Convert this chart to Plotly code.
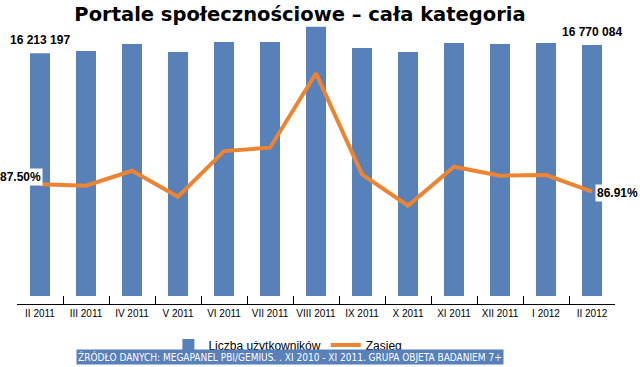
import plotly.graph_objects as go

categories = ["II 2011", "III 2011", "IV 2011", "V 2011", "VI 2011", "VII 2011", "VIII 2011",
              "IX 2011", "X 2011", "XI 2011", "XII 2011", "I 2012", "II 2012"]
users = [16213197, 16370000, 16830000, 16300000, 16970000, 16970000, 17990000,
         16570000, 16300000, 16900000, 16830000, 16900000, 16770084]
reach = [87.50, 87.39, 88.58, 86.51, 90.15, 90.42, 96.35,
         88.30, 85.79, 88.90, 88.19, 88.24, 86.91]

title_text = "Portale społecznościowe – cała kategoria"
source_text = "ŹRÓDŁO DANYCH: MEGAPANEL PBI/GEMIUS. . XI 2010 - XI 2011. GRUPA OBJETA BADANIEM 7+"

BLUE = "#5880B9"
ORANGE = "#ED8432"
SANS = "Liberation Sans, Arial, sans-serif"

def fmt_users(v):
    return f"{v:,}".replace(",", " ")

fig = go.Figure()
fig.add_trace(go.Bar(x=categories, y=users, name="Liczba użytkowników",
                     marker=dict(color=BLUE, line=dict(width=0)), yaxis="y"))
fig.add_trace(go.Scatter(x=categories, y=reach, name="Zasięg", mode="lines",
                         line=dict(color=ORANGE, width=4), yaxis="y2"))

ann = []
for i in (0, len(categories) - 1):
    ann.append(dict(x=categories[i], y=users[i], xref="x", yref="y", text=fmt_users(users[i]),
                    showarrow=False, yanchor="bottom", yshift=4,
                    font=dict(family=SANS, size=12, color="black")))
ann.append(dict(x=categories[0], y=reach[0], xref="x", yref="y2", text=f"{reach[0]:.2f}%",
                showarrow=False, xanchor="right", yanchor="middle", xshift=3, yshift=7,
                bgcolor="white", font=dict(family=SANS, size=12, color="black")))
ann.append(dict(x=categories[-1], y=reach[-1], xref="x", yref="y2", text=f"{reach[-1]:.2f}%",
                showarrow=False, xanchor="left", yanchor="middle", xshift=3, yshift=-1,
                bgcolor="white", font=dict(family=SANS, size=12, color="black")))
for a in ann:
    a["text"] = "<b>" + a["text"] + "</b>"
ann.append(dict(x=0.457, y=-0.189, xref="paper", yref="paper", text=source_text,
                showarrow=False, xanchor="center", yanchor="middle", bgcolor=BLUE,
                borderpad=1,
                font=dict(family="DejaVu Sans Condensed, DejaVu Sans, sans-serif", size=10, color="white")))

fig.update_layout(
    width=640, height=367,
    margin=dict(l=17, r=25, t=24, b=63, autoexpand=False),
    paper_bgcolor="white", plot_bgcolor="white",
    title=dict(text="<b>" + title_text + "</b>", x=300 / 640, xref="container", xanchor="center",
               y=1 - 14 / 367, yref="container", yanchor="middle",
               font=dict(family="DejaVu Sans, Verdana, sans-serif", size=19.5, color="black")),
    bargap=0.565,
    showlegend=True,
    legend=dict(orientation="h", x=0.453, y=-0.146, xanchor="center", yanchor="middle",
                font=dict(family=SANS, size=12, color="black"), itemwidth=30,
                bgcolor="rgba(0,0,0,0)"),
    xaxis=dict(range=[-0.5, len(categories) - 0.5], showline=True, linecolor="black",
               linewidth=1, ticks="inside", ticklen=8,
               tickcolor="black", tickson="boundaries", showgrid=False, tickangle=0,
               automargin=False,
               tickfont=dict(family=SANS, size=10, color="black")),
    yaxis=dict(range=[-534400, 18169600], visible=False, showgrid=False, automargin=False),
    yaxis2=dict(range=[77.96, 100.28], overlaying="y", side="right", visible=False,
                showgrid=False, automargin=False),
    annotations=ann,
)

fig.write_html("out.html", config={"displayModeBar": False},
               post_script="document.body.style.margin='0';")
